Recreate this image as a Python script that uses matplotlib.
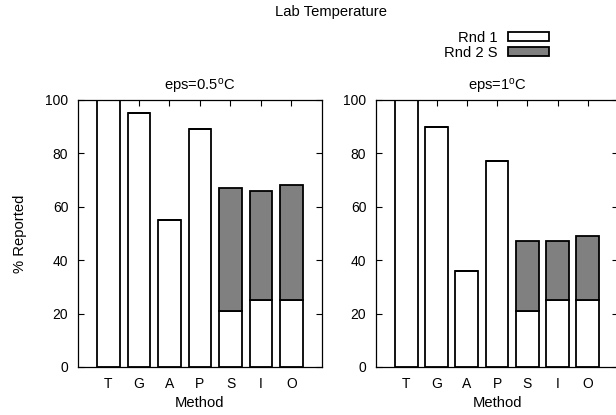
import numpy as np
import matplotlib.pyplot as plt
from matplotlib.patches import Patch

plt.rcParams['font.family'] = ['Liberation Sans', 'DejaVu Sans']
plt.rcParams['mathtext.default'] = 'regular'

methods = ['T', 'G', 'A', 'P', 'S', 'I', 'O']
# eps = 0.5 C
rnd1_05 = [100, 95, 55, 89, 21, 25, 25]
total_05 = [100, 95, 55, 89, 67, 66, 68]
# eps = 1 C
rnd1_1 = [100, 90, 36, 77, 21, 25, 25]
total_1 = [100, 90, 36, 77, 47, 47, 49]
titles = ['eps=0.5$^o$C', 'eps=1$^o$C']

fs = 10.6   # labels, titles, key
tfs = 10    # tick labels

fig = plt.figure(figsize=(6.16, 4.15), dpi=100)
axes = [fig.add_axes([0.1266, 0.1157, 0.3961, 0.6434]),
        fig.add_axes([0.6104, 0.1157, 0.3930, 0.6434])]

x = np.arange(len(methods))
for ax, r1, tot, ttl in zip(axes, [rnd1_05, rnd1_1], [total_05, total_1], titles):
    r2 = np.array(tot) - np.array(r1)
    ax.bar(x, r1, width=0.75, color='white', edgecolor='black', linewidth=1.3, zorder=2)
    ax.bar(x, r2, width=0.75, bottom=r1, color='#808080', edgecolor='black',
           linewidth=1.3, zorder=2)
    ax.set_xlim(-1, 7)
    ax.set_ylim(0, 100)
    ax.set_xticks(x)
    ax.set_xticklabels(methods)
    ax.set_yticks(range(0, 101, 20))
    ax.tick_params(direction='in', length=4, width=0.8, top=True, right=True,
                   labelsize=tfs, pad=7)
    ax.tick_params(axis='x', bottom=False, pad=7)
    for s in ax.spines.values():
        s.set_linewidth(0.9)
        s.set_zorder(3)
    ax.set_xlabel('Method', fontsize=fs, labelpad=4)
    ax.set_title(ttl, fontsize=fs, pad=7)

axes[0].set_ylabel('% Reported', fontsize=fs, labelpad=13)

fig.text(0.537, 0.971, 'Lab Temperature', ha='center', va='center', fontsize=fs)

handles = [Patch(facecolor='white', edgecolor='black', linewidth=1.3),
           Patch(facecolor='#808080', edgecolor='black', linewidth=1.3)]
fig.legend(handles, ['Rnd 1', 'Rnd 2 S'], loc='upper right',
           bbox_to_anchor=(0.892, 0.925), frameon=False, markerfirst=False,
           fontsize=fs, handlelength=2.8, handleheight=0.55, handletextpad=0.7,
           labelspacing=0.05, borderpad=0, borderaxespad=0)

fig.savefig('out.png', dpi=100)
